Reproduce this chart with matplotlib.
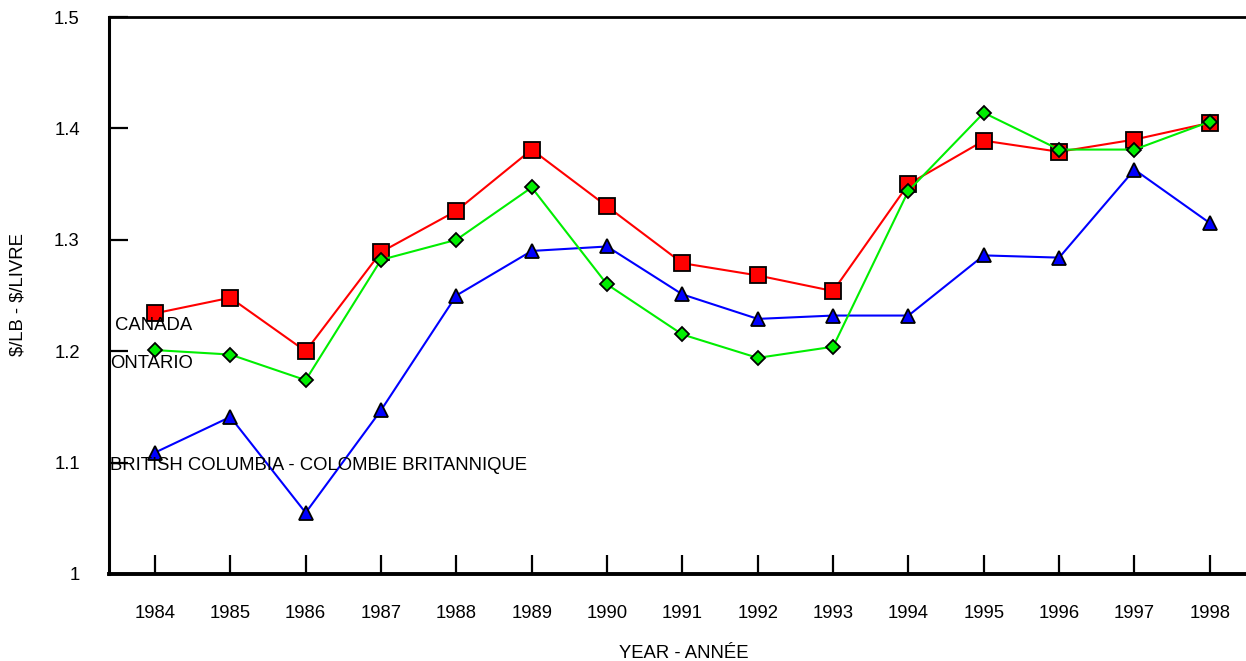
import numpy as np
import matplotlib.pyplot as plt

plt.rcParams['font.family'] = ['Liberation Sans', 'DejaVu Sans']

years = list(range(1984, 1999))
canada = [1.234, 1.248, 1.200, 1.289, 1.326, 1.381, 1.330, 1.279, 1.268, 1.254,
          1.350, 1.389, 1.379, 1.390, 1.405]
ontario = [1.201, 1.197, 1.174, 1.282, 1.300, 1.347, 1.260, 1.215, 1.194, 1.204,
           1.344, 1.414, 1.381, 1.381, 1.406]
bc = [1.109, 1.141, 1.055, 1.147, 1.250, 1.290, 1.294, 1.251, 1.229, 1.232,
      1.232, 1.286, 1.284, 1.363, 1.315]
yticks = [1.0, 1.1, 1.2, 1.3, 1.4, 1.5]
ytick_labels = ['1', '1.1', '1.2', '1.3', '1.4', '1.5']

fs = 13.3

fig = plt.figure(figsize=(12.46, 6.61), dpi=100)
ax = fig.add_axes([109 / 1246, 87 / 661, 1 - 109 / 1246, (574 - 17) / 661])

ax.plot(years, bc, color='#0000ff', lw=1.5, marker='^', ms=10,
        mfc='#0000ff', mec='black', mew=1.3, clip_on=False)
ax.plot(years, canada, color='#ff0000', lw=1.5, marker='s', ms=11,
        mfc='#ff0000', mec='black', mew=1.3, clip_on=False)
ax.plot(years, ontario, color='#00ee00', lw=1.5, marker='D', ms=7.3,
        mfc='#00ee00', mec='black', mew=1.3, clip_on=False)

ax.set_xlim(1983.39, 1998.48)
ax.set_ylim(1.0, 1.5)
ax.set_xticks(years)
ax.set_yticks(yticks)
ax.set_yticklabels(ytick_labels)

ax.tick_params(axis='both', direction='in', length=14, width=1.6, labelsize=fs)
ax.tick_params(axis='x', pad=22)
ax.tick_params(axis='y', pad=21)

ax.spines['right'].set_visible(False)
ax.spines['left'].set_linewidth(2.2)
ax.spines['bottom'].set_linewidth(2.8)
ax.spines['top'].set_linewidth(2)

ax.text(1983.47, 1.223, 'CANADA', fontsize=fs, va='center', ha='left')
ax.text(1983.41, 1.189, 'ONTARIO', fontsize=fs, va='center', ha='left')
ax.text(1983.40, 1.097, 'BRITISH COLUMBIA - COLOMBIE BRITANNIQUE', fontsize=fs,
        va='center', ha='left')

fig.text(18 / 1246, 1 - 295 / 661, r'\$/LB - \$/LIVRE', rotation=90, fontsize=fs,
         ha='center', va='center')
fig.text(684 / 1246, 1 - 653 / 661, 'YEAR - ANNÉE', fontsize=fs,
         ha='center', va='center')

fig.savefig('out.png', dpi=100)
